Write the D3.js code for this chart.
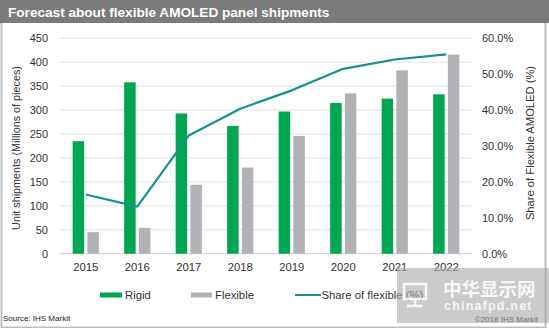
<!DOCTYPE html>
<html>
<head>
<meta charset="utf-8">
<script src="https://cdn.jsdelivr.net/npm/d3@7/dist/d3.min.js"></script>
<style>
  html, body { margin: 0; padding: 0; background: #fff; }
  svg { display: block; font-family: Arial, "Liberation Sans", sans-serif; }
</style>
</head>
<body>
<svg id="chart" width="549" height="328"></svg>
<script>
// Panel shipments (millions of pieces) and flexible share (%)
const years = ["2015", "2016", "2017", "2018", "2019", "2020", "2021", "2022"];
const rigid = [235, 358, 293, 267, 297, 315, 324, 333];
const flexible = [45, 54, 144, 180, 246, 335, 383, 416];
const shareFlexible = [16.5, 13.1, 32.9, 40.4, 45.5, 51.5, 54.1, 55.5];
const leftTicks = [0, 50, 100, 150, 200, 250, 300, 350, 400, 450];
const rightTicks = [0, 10, 20, 30, 40, 50, 60];

const colors = { rigid: "#00a651", flexible: "#b2b2b6", share: "#17908f" };
const FONT = "Arial, 'Liberation Sans', sans-serif";

const svg = d3.select("#chart");
const W = 549, H = 328;
const plot = { left: 60, right: 472, top: 38.3, bottom: 253.7 };

// frame and title band
svg.append("rect").attr("x", 1.5).attr("y", 0.5).attr("width", 544).attr("height", 327)
  .attr("fill", "#fff").attr("stroke", "#bdbdbd").attr("stroke-width", 2);
svg.append("rect").attr("x", 0).attr("y", 0).attr("width", W).attr("height", 23)
  .attr("fill", "#7b7b7b");
svg.append("text").attr("x", 8).attr("y", 17)
  .attr("fill", "#fff").attr("font-size", 13.6).attr("font-weight", "bold")
  .text("Forecast about flexible AMOLED panel shipments");

const x = d3.scaleBand().domain(years).range([plot.left, plot.right]);
const y = d3.scaleLinear().domain([0, 450]).range([plot.bottom, plot.top]);
const y2 = d3.scaleLinear().domain([0, 60]).range([plot.bottom, plot.top]);

// horizontal gridlines
svg.append("g").selectAll("line").data(leftTicks).join("line")
  .attr("x1", plot.left).attr("x2", plot.right)
  .attr("y1", d => y(d)).attr("y2", d => y(d))
  .attr("stroke", d => d === 0 ? "#cfcfcf" : "#e2e2e2").attr("stroke-width", 1);

// left axis
const leftAxis = svg.append("g").attr("transform", `translate(${plot.left},0)`)
  .call(d3.axisLeft(y).tickValues(leftTicks).tickSize(0).tickPadding(12));
leftAxis.select(".domain").remove();
leftAxis.selectAll("text").attr("font-size", 11).attr("fill", "#333").attr("font-family", FONT);

// right axis
const rightAxis = svg.append("g").attr("transform", `translate(${plot.right},0)`)
  .call(d3.axisRight(y2).tickValues(rightTicks).tickSize(0).tickPadding(10)
    .tickFormat(d => d.toFixed(1) + "%"));
rightAxis.select(".domain").remove();
rightAxis.selectAll("text").attr("font-size", 11).attr("fill", "#333").attr("font-family", FONT);

// bottom axis
const bottomAxis = svg.append("g").attr("transform", `translate(0,${plot.bottom})`)
  .call(d3.axisBottom(x).tickSize(0).tickPadding(9));
bottomAxis.select(".domain").remove();
bottomAxis.selectAll("text").attr("font-size", 11.3).attr("fill", "#333").attr("font-family", FONT);

// axis titles
svg.append("text")
  .attr("transform", `translate(20,${(plot.top + plot.bottom) / 2 + 2}) rotate(-90)`)
  .attr("text-anchor", "middle").attr("font-size", 10.8).attr("fill", "#333")
  .text("Unit shipments (Millions of pieces)");
svg.append("text")
  .attr("transform", `translate(534,${(plot.top + plot.bottom) / 2 - 3}) rotate(-90)`)
  .attr("text-anchor", "middle").attr("font-size", 11.2).attr("fill", "#333")
  .text("Share of Flexible AMOLED (%)");

// grouped bars
const barW = 11.5, gap = 3.2;
const groupW = barW * 2 + gap;
const gBars = svg.append("g");
gBars.selectAll("rect.rigid").data(years).join("rect")
  .attr("class", "rigid")
  .attr("x", d => x(d) + x.bandwidth() / 2 - groupW / 2)
  .attr("width", barW)
  .attr("y", (d, i) => y(rigid[i]))
  .attr("height", (d, i) => y(0) - y(rigid[i]))
  .attr("fill", colors.rigid);
gBars.selectAll("rect.flex").data(years).join("rect")
  .attr("class", "flex")
  .attr("x", d => x(d) + x.bandwidth() / 2 - groupW / 2 + barW + gap)
  .attr("width", barW)
  .attr("y", (d, i) => y(flexible[i]))
  .attr("height", (d, i) => y(0) - y(flexible[i]))
  .attr("fill", colors.flexible);

// share line
const line = d3.line()
  .x((d, i) => x(years[i]) + x.bandwidth() / 2)
  .y(d => y2(d));
svg.append("path").datum(shareFlexible)
  .attr("d", line).attr("fill", "none")
  .attr("stroke", colors.share).attr("stroke-width", 2.2)
  .attr("stroke-linejoin", "round");

// legend
const legend = svg.append("g").attr("font-size", 11.3).attr("fill", "#333");
legend.append("rect").attr("x", 100).attr("y", 292.5).attr("width", 22).attr("height", 5).attr("fill", colors.rigid);
legend.append("text").attr("x", 125).attr("y", 299).text("Rigid");
legend.append("rect").attr("x", 191).attr("y", 292.5).attr("width", 21).attr("height", 5).attr("fill", colors.flexible);
legend.append("text").attr("x", 215).attr("y", 299).text("Flexible");
legend.append("line").attr("x1", 295).attr("x2", 321).attr("y1", 295).attr("y2", 295)
  .attr("stroke", colors.share).attr("stroke-width", 2);
legend.append("text").attr("x", 321.5).attr("y", 299).text("Share of flexible (%)");

// source notes
svg.append("text").attr("x", 3).attr("y", 321).attr("font-size", 8).attr("fill", "#222")
  .text("Source: IHS Markit");
svg.append("text").attr("x", 538).attr("y", 322).attr("font-size", 8).attr("fill", "#222")
  .attr("text-anchor", "end").text("©2018 IHS Markit");

// site stamp in the lower right corner
const stamp = svg.append("g");
stamp.append("rect").attr("x", 397).attr("y", 268).attr("width", 152).attr("height", 55)
  .attr("fill", "#a8a8a8").attr("opacity", 0.6);
stamp.append("rect").attr("x", 404).attr("y", 284).attr("width", 22).attr("height", 15)
  .attr("fill", "none").attr("stroke", "#fff").attr("stroke-width", 2.5).attr("opacity", 0.85);
stamp.append("line").attr("x1", 415).attr("x2", 415).attr("y1", 299).attr("y2", 305)
  .attr("stroke", "#fff").attr("stroke-width", 2.5).attr("opacity", 0.85);
stamp.append("line").attr("x1", 407).attr("x2", 423).attr("y1", 306).attr("y2", 306)
  .attr("stroke", "#fff").attr("stroke-width", 2.5).attr("opacity", 0.85);
stamp.append("text").attr("x", 443).attr("y", 296).attr("font-size", 18.5).attr("font-weight", "bold")
  .attr("fill", "#fff").attr("opacity", 0.85)
  .attr("font-family", "'Noto Sans CJK SC', sans-serif").text("中华显示网");
stamp.append("text").attr("x", 444).attr("y", 310).attr("font-size", 12.5).attr("font-weight", "bold")
  .attr("fill", "#fff").attr("opacity", 0.8).attr("letter-spacing", 1.2).text("chinafpd.net");
</script>
</body>
</html>
